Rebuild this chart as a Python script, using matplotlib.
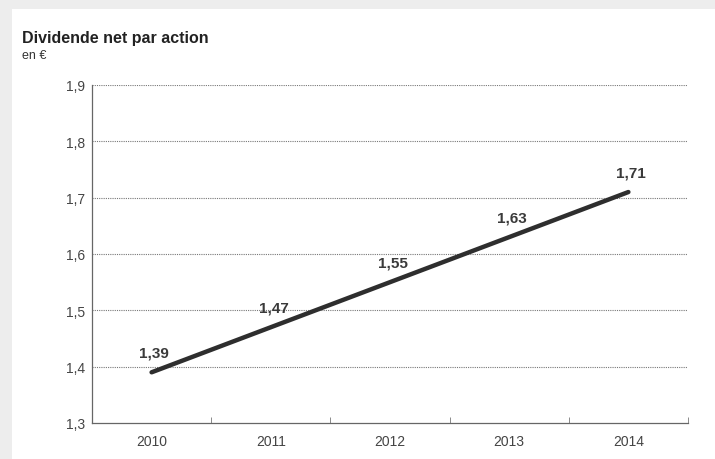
import matplotlib.pyplot as plt
import numpy as np
from matplotlib.patches import Rectangle

plt.rcParams['font.family'] = ['Liberation Sans', 'DejaVu Sans']

years = ['2010', '2011', '2012', '2013', '2014']
dividend = [1.39, 1.47, 1.55, 1.63, 1.71]
labels = ['1,39', '1,47', '1,55', '1,63', '1,71']
yticks = [1.3, 1.4, 1.5, 1.6, 1.7, 1.8, 1.9]

fig = plt.figure(figsize=(7.15, 4.6), dpi=100)
fig.patch.set_facecolor('#ededed')
# white card behind everything
fig.patches.append(Rectangle((12 / 715, 0), 1, 1 - 10 / 460, transform=fig.transFigure,
                             facecolor='white', edgecolor='none', zorder=-10))

ax = fig.add_axes([92 / 715, 1 - 424 / 460, (688 - 92) / 715, (424 - 86) / 460])
ax.set_facecolor('white')

x = np.arange(len(years))
ax.plot(x, dividend, color='#2e2e2e', linewidth=3.2, solid_capstyle='round', zorder=3)
for xi, yi, lab in zip(x, dividend, labels):
    ax.annotate(lab, (xi, yi), xytext=(2, 9), textcoords='offset points',
                ha='center', va='bottom', fontsize=11, fontweight='bold', color='#3a3a3a')

ax.set_xlim(-0.5, 4.5)
ax.set_ylim(1.3, 1.9)
ax.set_yticks(yticks)
ax.set_yticklabels([f'{v:.1f}'.replace('.', ',') for v in yticks], fontsize=10, color='#444444')
ax.set_xticks(x)
ax.set_xticklabels(years, fontsize=10, color='#444444')
ax.tick_params(axis='x', length=0, pad=8)
ax.tick_params(axis='y', length=0, pad=5)
ax.set_xticks(np.arange(-0.5, 5.0, 1.0), minor=True)
ax.tick_params(axis='x', which='minor', direction='in', length=4, color='#777777')

for v in yticks[1:]:
    ax.axhline(v, color='#777777', linestyle=(0, (1, 1)), linewidth=0.8, zorder=1)

for s in ['top', 'right']:
    ax.spines[s].set_visible(False)
for s in ['left', 'bottom']:
    ax.spines[s].set_color('#666666')
    ax.spines[s].set_linestyle((0, (1, 1)))
    ax.spines[s].set_linewidth(0.9)

fig.text(22 / 715, 1 - 38 / 460, 'Dividende net par action', fontsize=11.5, fontweight='bold',
         color='#222222', va='center')
fig.text(22 / 715, 1 - 56 / 460, 'en €', fontsize=9, color='#333333', va='center')

fig.savefig('out.png', dpi=100, facecolor=fig.get_facecolor())
